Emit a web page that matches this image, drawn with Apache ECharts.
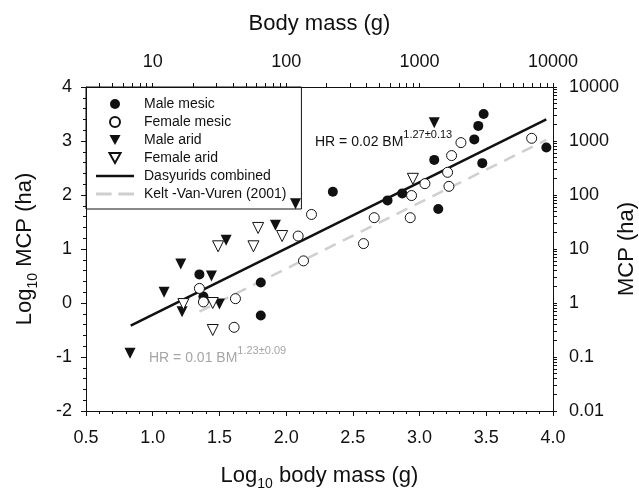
<!DOCTYPE html>
<html>
<head>
<meta charset="utf-8">
<script src="https://cdn.jsdelivr.net/npm/echarts@6/dist/echarts.min.js"></script>
<style>
  html, body { margin: 0; padding: 0; background: #fff; }
  #main { width: 639px; height: 488px; }
</style>
</head>
<body>
<div id="main"></div>
<script>
// log10 body mass (g), log10 MCP (ha)
const maleMesic = [
  [1.35, 0.53], [1.38, 0.12], [1.81, 0.38], [1.81, -0.23], [2.35, 2.06],
  [2.76, 1.90], [2.87, 2.03], [3.11, 2.65], [3.14, 1.74], [3.41, 3.03],
  [3.44, 3.28], [3.48, 3.50], [3.47, 2.59], [3.95, 2.88]
]
const femaleMesic = [
  [1.35, 0.27], [1.38, 0.02], [1.62, 0.08], [1.61, -0.45], [2.13, 0.78],
  [2.09, 1.24], [2.19, 1.64], [2.58, 1.10], [2.66, 1.58], [2.93, 1.58],
  [2.94, 1.99], [3.04, 2.21], [3.21, 2.42], [3.22, 2.16], [3.24, 2.73],
  [3.31, 2.97], [3.84, 3.05]
]
const maleArid = [
  [0.83, -0.93], [1.085, 0.20], [1.21, 0.72], [1.22, -0.16], [1.44, 0.50],
  [1.50, -0.02], [1.55, 1.16], [1.92, 1.44], [2.07, 1.84], [3.11, 3.34]
]
const femaleArid = [
  [1.23, -0.02], [1.45, 0.00], [1.45, -0.50], [1.49, 1.05], [1.755, 1.05],
  [1.79, 1.39], [1.97, 1.24], [2.95, 2.30]
]
const dasyuridsLine = [[0.835, -0.42], [3.95, 3.40]]
const keltLine = [[1.35, -0.16], [3.95, 3.02]]

const xTicks = [0.5, 1.0, 1.5, 2.0, 2.5, 3.0, 3.5, 4.0]
const yTicks = [-2, -1, 0, 1, 2, 3, 4]
const topTicks = [1, 2, 3, 4]  // 10, 100, 1000, 10000 g

const font = "'Liberation Sans', Arial, sans-serif"
const ink = '#111'
const grey = '#a6a6a6'

// log axis ticks: decades plus 2..9 in each decade
function logTicks(lo, hi) {
  const out = []
  for (let k = Math.floor(lo) - 1; k <= Math.ceil(hi); k++) {
    for (let m = 1; m <= 9; m++) {
      const v = k + Math.log10(m)
      if (v >= lo - 1e-9 && v <= hi + 1e-9) out.push(v)
    }
  }
  return out
}
function powLabel(v) {
  const n = Math.round(v)
  return n < 0 ? Math.pow(10, n).toFixed(-n) : String(Math.pow(10, n))
}

const chart = echarts.init(document.getElementById('main'))

const subRich = {
  a: { fontSize: 22, fontFamily: font, color: ink, lineHeight: 30 },
  b: { fontSize: 14, fontFamily: font, color: ink, lineHeight: 14, verticalAlign: 'bottom' }
}
const triDown = 'path://M0,0L10,0L5,9Z'

const option = {
  animation: false,
  backgroundColor: '#fff',
  textStyle: { fontFamily: font },
  grid: { left: 86, right: 86, top: 87, bottom: 77, containLabel: false, outerBoundsMode: 'none' },
  legend: {
    orient: 'vertical',
    left: 86,
    top: 87,
    padding: [10, 15, 8, 10],
    itemGap: 4,
    itemWidth: 38,
    itemHeight: 10,
    borderColor: ink,
    borderWidth: 1,
    textStyle: { fontSize: 14, color: ink, fontFamily: font, padding: [0, 0, 0, 5] },
    data: [
      { name: 'Male mesic', icon: 'circle' },
      { name: 'Female mesic', icon: 'circle' },
      { name: 'Male arid', icon: triDown },
      { name: 'Female arid', icon: triDown },
      { name: 'Dasyurids combined', icon: 'path://M0,0h38v2.5h-38z' },
      { name: 'Kelt -Van-Vuren (2001)', icon: 'path://M0,0h14v2.5h-14zM20,0h14v2.5h-14z' }
    ]
  },
  xAxis: [
    {
      type: 'value', position: 'bottom', min: 0.5, max: 4, interval: 0.5,
      name: '{a|Log}{b|10}{a| body mass (g)}',
      nameLocation: 'middle', nameGap: 50, nameMoveOverlap: false,
      nameTextStyle: { rich: subRich },
      axisLine: { show: true, onZero: false, lineStyle: { color: ink, width: 1 } },
      axisTick: { show: true, length: 5, lineStyle: { color: ink } },
      minorTick: { show: true, splitNumber: 5, length: 3, lineStyle: { color: ink } },
      axisLabel: { fontSize: 18, color: ink, margin: 18, formatter: v => v.toFixed(1), customValues: xTicks },
      splitLine: { show: false }
    },
    {
      type: 'value', position: 'top', min: 0.5, max: 4,
      name: 'Body mass (g)',
      nameLocation: 'middle', nameGap: 52, nameMoveOverlap: false,
      nameTextStyle: { fontSize: 22, color: ink },
      axisLine: { show: true, onZero: false, lineStyle: { color: ink, width: 1 } },
      axisTick: { show: true, length: 4, customValues: logTicks(0.5, 4), lineStyle: { color: ink } },
      axisLabel: { fontSize: 18, color: ink, margin: 16, customValues: topTicks, formatter: powLabel },
      splitLine: { show: false }
    }
  ],
  yAxis: [
    {
      type: 'value', position: 'left', min: -2, max: 4, interval: 1,
      name: '{a|Log}{b|10}{a| MCP (ha)}',
      nameLocation: 'middle', nameGap: 46, nameMoveOverlap: false,
      nameTextStyle: { rich: subRich },
      axisLine: { show: true, onZero: false, lineStyle: { color: ink, width: 1 } },
      axisTick: { show: true, length: 5, lineStyle: { color: ink } },
      minorTick: { show: true, splitNumber: 5, length: 3, lineStyle: { color: ink } },
      axisLabel: { fontSize: 18, color: ink, margin: 14, customValues: yTicks },
      splitLine: { show: false }
    },
    {
      type: 'value', position: 'right', min: -2, max: 4,
      name: 'MCP (ha)',
      nameLocation: 'middle', nameGap: 63, nameRotate: 90, nameMoveOverlap: false,
      nameTextStyle: { fontSize: 22, color: ink },
      axisLine: { show: true, onZero: false, lineStyle: { color: ink, width: 1 } },
      axisTick: { show: true, length: 4, customValues: logTicks(-2, 4), lineStyle: { color: ink } },
      axisLabel: { fontSize: 18, color: ink, margin: 16, customValues: yTicks, formatter: powLabel },
      splitLine: { show: false }
    }
  ],
  series: [
    {
      name: 'Male mesic', type: 'scatter', data: maleMesic,
      symbol: 'circle', symbolSize: 10,
      itemStyle: { color: ink, opacity: 1 }
    },
    {
      name: 'Female mesic', type: 'scatter', data: femaleMesic,
      symbol: 'circle', symbolSize: 10,
      itemStyle: { color: '#fff', borderColor: ink, borderWidth: 1, opacity: 1 }
    },
    {
      name: 'Male arid', type: 'scatter', data: maleArid,
      symbol: 'triangle', symbolRotate: 180, symbolSize: 11,
      itemStyle: { color: ink, opacity: 1 }
    },
    {
      name: 'Female arid', type: 'scatter', data: femaleArid,
      symbol: 'triangle', symbolRotate: 180, symbolSize: 11,
      itemStyle: { color: '#fff', borderColor: ink, borderWidth: 1, opacity: 1 }
    },
    {
      name: 'Dasyurids combined', type: 'line', data: dasyuridsLine,
      symbol: 'none', z: 1,
      itemStyle: { color: ink },
      lineStyle: { color: ink, width: 2.5 }
    },
    {
      name: 'Kelt -Van-Vuren (2001)', type: 'line', data: keltLine,
      symbol: 'none', z: 1,
      itemStyle: { color: '#cfcfcf' },
      lineStyle: { color: '#cfcfcf', width: 2.5, type: [12, 8] }
    }
  ],
  graphic: [
    {
      type: 'text', left: 315, top: 129,
      style: {
        text: '{m|HR = 0.02 BM}{s|1.27±0.13}',
        rich: {
          m: { fontSize: 14, fontFamily: font, fill: ink, lineHeight: 20, verticalAlign: 'bottom' },
          s: { fontSize: 11, fontFamily: font, fill: ink, lineHeight: 14, verticalAlign: 'top' }
        }
      }
    },
    {
      type: 'text', left: 149, top: 345,
      style: {
        text: '{m|HR = 0.01 BM}{s|1.23±0.09}',
        rich: {
          m: { fontSize: 14, fontFamily: font, fill: grey, lineHeight: 20, verticalAlign: 'bottom' },
          s: { fontSize: 11, fontFamily: font, fill: grey, lineHeight: 14, verticalAlign: 'top' }
        }
      }
    }
  ]
}

chart.setOption(option)
</script>
</body>
</html>
